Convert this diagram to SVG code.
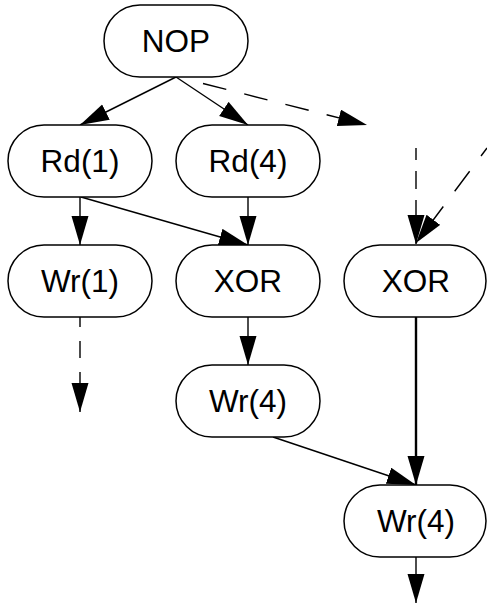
<svg xmlns="http://www.w3.org/2000/svg" width="487" height="606" viewBox="0 0 487 606">
<defs>
<style>
.node rect{fill:#fff;stroke:#000;stroke-width:1.5}
.node text{font-family:"Liberation Sans",Arial,sans-serif;font-size:31.5px;fill:#000;text-anchor:middle}
.edge{fill:none;stroke:#000;stroke-width:1.4}
.thick{stroke-width:2.4}
</style>
<marker id="ah" markerUnits="userSpaceOnUse" markerWidth="30" markerHeight="18" refX="29" refY="8.5" orient="auto">
<path d="M0,0 L29,8.5 L0,17 z" fill="#000" stroke="none"/>
</marker>
</defs>
<rect width="487" height="606" fill="#fff"/>
<g id="connectors">
<path class="edge" d="M176,77 L80,125" marker-end="url(#ah)"/>
<path class="edge" d="M176,77 L248,125" marker-end="url(#ah)"/>
<path class="edge" d="M203,83.5 L367,125" stroke-dasharray="24 18.5" marker-end="url(#ah)"/>
<path class="edge" d="M80,197 L80,245" marker-end="url(#ah)"/>
<path class="edge" d="M81,197 L248,245" marker-end="url(#ah)"/>
<path class="edge" d="M248,197 L248,245" marker-end="url(#ah)"/>
<path class="edge" d="M416,148 L416,244" stroke-dasharray="18 11" stroke-dashoffset="6" marker-end="url(#ah)"/>
<path class="edge" d="M487,148 L416,243" stroke-dasharray="25 19" stroke-dashoffset="15" marker-end="url(#ah)"/>
<path class="edge" d="M80,317 L80,412" stroke-dasharray="17 14" stroke-dashoffset="7" marker-end="url(#ah)"/>
<path class="edge" d="M248,317 L248,365" marker-end="url(#ah)"/>
<path class="edge thick" d="M416,317 L416,485" marker-end="url(#ah)"/>
<path class="edge" d="M273,437 L416,485" marker-end="url(#ah)"/>
<path class="edge" d="M416,557 L416,603" marker-end="url(#ah)"/>
</g>
<g id="nop" class="node"><rect x="104" y="5" width="144" height="72" rx="36"/><text x="176" y="52">NOP</text></g>
<g id="rd1" class="node"><rect x="8" y="125" width="144" height="72" rx="36"/><text x="80" y="172">Rd(1)</text></g>
<g id="rd4" class="node"><rect x="176" y="125" width="144" height="72" rx="36"/><text x="248" y="172">Rd(4)</text></g>
<g id="wr1" class="node"><rect x="8" y="245" width="144" height="72" rx="36"/><text x="80" y="292">Wr(1)</text></g>
<g id="xor1" class="node"><rect x="176" y="245" width="144" height="72" rx="36"/><text x="248" y="292">XOR</text></g>
<g id="xor2" class="node"><rect x="344" y="245" width="142" height="72" rx="36"/><text x="416" y="292">XOR</text></g>
<g id="wr4a" class="node"><rect x="176" y="365" width="144" height="72" rx="36"/><text x="248" y="412">Wr(4)</text></g>
<g id="wr4b" class="node"><rect x="344" y="485" width="142" height="72" rx="36"/><text x="416" y="532">Wr(4)</text></g>
</svg>
